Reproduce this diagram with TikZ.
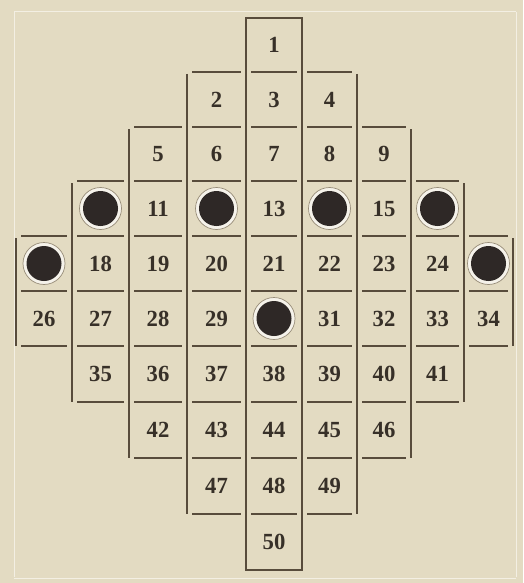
\documentclass[tikz,border=0pt]{standalone}
\usepackage{fontspec}
\usepackage{graphicx}
\newfontfamily\numfont{Liberation Serif}
\definecolor{paper}{RGB}{227,219,194}
\definecolor{ink}{RGB}{88,76,60}
\definecolor{disc}{RGB}{46,40,38}
\definecolor{digit}{RGB}{55,48,40}
\newcommand{\numtext}[1]{\scalebox{1.08}[1.1]{#1}}
\tikzset{
  gridline/.style={ink, line width=1.4pt},
  centerbox/.style={ink, line width=2.2pt},
  num/.style={inner sep=0pt, text=digit, font=\numfont\bfseries\fontsize{21}{21}\selectfont},
  peg/.style={circle, inner sep=0pt, minimum size=42pt, draw=ink!55!paper, line width=0.7pt,
    fill=white!65!paper,
    path picture={\fill[disc] (path picture bounding box.center) circle (17.5pt);}},
  frameline/.style={white!55!paper, line width=1pt}
}
\begin{document}
\begin{tikzpicture}[x=1pt,y=-1pt]
\fill[paper] (0,0) rectangle (523,583);
\useasboundingbox (0,0) rectangle (523,583);
\draw[frameline] (14,12) -- (516,12);
\draw[frameline] (14,12) -- (14,577);
\draw[frameline] (516,12) -- (516,577);
\draw[frameline] (14,578) -- (516,578);
% column boundaries (left,right) and row span
\def\LL{{16,72,129,187,246,302,357,411,464}}
\def\RR{{72,129,187,246,302,357,411,464,513}}
\def\YY{{18,72,127,181,236,291,346,402,458,514,570}}
\def\FF{{4,3,2,1,0,1,2,3,4}}
\def\TT{{5,6,7,8,9,8,7,6,5}}
% horizontal short lines
\foreach \c in {0,...,8}{
  \pgfmathtruncatemacro\fr{\FF[\c]}
  \pgfmathtruncatemacro\la{\TT[\c]+1}
  \pgfmathsetmacro\xa{\LL[\c]+5}
  \pgfmathsetmacro\xb{\RR[\c]-5}
  \foreach \k in {\fr,...,\la}{
    \pgfmathsetmacro\yy{\YY[\k]}
    \ifnum\c=4
      \ifnum\k>0 \ifnum\k<10
        \draw[gridline] (\xa,\yy) -- (\xb,\yy);
      \fi\fi
    \else
      \draw[gridline] (\xa,\yy) -- (\xb,\yy);
    \fi
  }
}
% vertical lines: left side for left columns, right side for right columns
\foreach \c in {0,1,2,3}{
  \pgfmathtruncatemacro\fr{\FF[\c]}
  \pgfmathtruncatemacro\la{\TT[\c]+1}
  \pgfmathsetmacro\xx{\LL[\c]}
  \pgfmathsetmacro\ya{\YY[\fr]+2}
  \pgfmathsetmacro\yb{\YY[\la]}
  \draw[gridline] (\xx,\ya) -- (\xx,\yb);
}
\foreach \c in {5,6,7,8}{
  \pgfmathtruncatemacro\fr{\FF[\c]}
  \pgfmathtruncatemacro\la{\TT[\c]+1}
  \pgfmathsetmacro\xx{\RR[\c]}
  \pgfmathsetmacro\ya{\YY[\fr]+2}
  \pgfmathsetmacro\yb{\YY[\la]}
  \draw[gridline] (\xx,\ya) -- (\xx,\yb);
}
% central column box
\draw[centerbox] (246,18) rectangle (302,570);
% cells: row, first column, last column, first number
\foreach \r/\ca/\cb/\n in {0/4/4/1,1/3/5/2,2/2/6/5,3/1/7/10,4/0/8/17,5/0/8/26,6/1/7/35,7/2/6/42,8/3/5/47,9/4/4/50}{
  \pgfmathtruncatemacro\rn{\r+1}
  \pgfmathsetmacro\ytop{\YY[\r]}
  \pgfmathsetmacro\ybot{\YY[\rn]}
  \pgfmathsetmacro\cy{(\ytop+\ybot)/2}
  \foreach \c in {\ca,...,\cb}{
    \pgfmathtruncatemacro\m{\n+\c-\ca}
    \pgfmathsetmacro\xl{\LL[\c]}
    \pgfmathsetmacro\xr{\RR[\c]}
    \pgfmathsetmacro\cx{(\xl+\xr)/2}
    \ifnum\m=10 \node[peg] (c\m) at (\cx,\cy) {};
    \else\ifnum\m=12 \node[peg] (c\m) at (\cx,\cy) {};
    \else\ifnum\m=14 \node[peg] (c\m) at (\cx,\cy) {};
    \else\ifnum\m=16 \node[peg] (c\m) at (\cx,\cy) {};
    \else\ifnum\m=17 \node[peg] (c\m) at (\cx,\cy) {};
    \else\ifnum\m=25 \node[peg] (c\m) at (\cx,\cy) {};
    \else\ifnum\m=30 \node[peg] (c\m) at (\cx,\cy) {};
    \else \node[num] (c\m) at (\cx,\cy) {\numtext{\m}};
    \fi\fi\fi\fi\fi\fi\fi
  }
}
\end{tikzpicture}
\end{document}
